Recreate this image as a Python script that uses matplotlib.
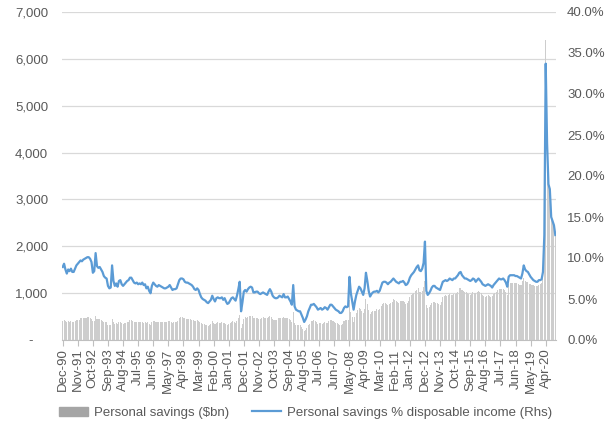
import numpy as np
import pandas as pd
import matplotlib.pyplot as plt
from matplotlib.patches import Patch
from matplotlib.ticker import FuncFormatter, FixedLocator

plt.rcParams['font.family'] = ['Liberation Sans', 'DejaVu Sans']

# monthly, Dec-90 .. Nov-20
months = pd.date_range("1990-12-01", "2020-11-01", freq="MS")

# personal savings rate, % of disposable income (right axis)
saving_rate = [
    8.9,
    9.3, 8.6, 8.1, 8.6, 8.4, 8.7, 8.3, 8.3, 8.7, 9.1, 9.3, 9.5,          # 1991
    9.7, 9.6, 9.8, 9.9, 10.0, 10.1, 10.1, 9.9, 9.5, 8.2, 8.4, 10.6,     # 1992
    9.0, 8.8, 8.9, 8.6, 8.3, 7.8, 7.6, 7.5, 6.6, 6.3, 6.4, 9.1,         # 1993
    7.2, 6.6, 6.9, 6.5, 7.2, 7.3, 6.8, 6.6, 6.8, 7.0, 7.2, 7.3,         # 1994
    7.6, 7.6, 7.3, 7.0, 6.9, 7.0, 6.8, 6.9, 6.8, 7.0, 6.7, 6.8,         # 1995
    6.3, 6.5, 6.0, 5.7, 6.6, 7.0, 6.8, 6.6, 6.5, 6.7, 6.6, 6.5,         # 1996
    6.4, 6.3, 6.3, 6.4, 6.5, 6.7, 6.4, 6.1, 6.2, 6.2, 6.3, 6.8,         # 1997
    7.3, 7.5, 7.5, 7.4, 7.1, 7.0, 7.0, 6.9, 6.8, 6.7, 6.5, 6.2,         # 1998
    6.1, 6.3, 6.1, 5.6, 5.2, 5.0, 4.9, 4.8, 4.6, 4.5, 4.7, 4.9,         # 1999
    5.4, 5.0, 4.7, 5.1, 5.2, 5.1, 5.1, 5.2, 4.9, 5.1, 4.7, 4.4,         # 2000
    4.5, 4.8, 5.1, 5.2, 5.0, 4.8, 5.4, 6.2, 7.1, 3.5, 4.6, 5.9,         # 2001
    6.1, 5.9, 6.2, 6.4, 6.5, 6.4, 5.8, 5.8, 5.9, 5.9, 5.7, 5.6,         # 2002
    5.7, 5.8, 5.7, 5.6, 5.5, 5.9, 6.2, 5.9, 5.4, 5.2, 5.1, 5.1,         # 2003
    5.2, 5.4, 5.3, 5.2, 5.6, 5.2, 5.2, 5.3, 5.0, 4.7, 4.3, 6.7,         # 2004
    4.1, 3.7, 3.6, 3.5, 3.5, 3.1, 2.7, 2.2, 2.5, 2.9, 3.5, 3.9,         # 2005
    4.3, 4.3, 4.4, 4.2, 4.0, 3.7, 3.8, 3.9, 3.7, 3.8, 4.0, 3.9,         # 2006
    3.7, 4.0, 4.3, 4.3, 4.1, 3.9, 3.7, 3.6, 3.5, 3.3, 3.3, 3.5,         # 2007
    3.9, 4.1, 4.0, 4.1, 7.7, 5.7, 4.7, 3.7, 4.7, 5.5, 6.0, 6.5,         # 2008
    6.3, 5.9, 5.5, 6.3, 8.2, 7.2, 6.0, 5.3, 5.6, 5.8, 5.9, 5.9,         # 2009
    6.0, 5.8, 6.0, 6.5, 7.0, 7.1, 7.1, 7.0, 6.8, 7.0, 7.1, 7.3,         # 2010
    7.5, 7.3, 7.1, 7.0, 6.9, 7.1, 7.1, 7.2, 7.0, 6.7, 6.8, 7.1,         # 2011
    7.6, 7.9, 8.1, 8.3, 8.6, 8.9, 9.1, 8.5, 8.4, 8.7, 9.4, 12.0,        # 2012
    6.0, 5.5, 5.7, 6.0, 6.4, 6.6, 6.6, 6.4, 6.3, 6.2, 6.1, 6.6,         # 2013
    7.1, 7.2, 7.3, 7.2, 7.3, 7.5, 7.4, 7.3, 7.5, 7.5, 7.7, 7.9,         # 2014
    8.2, 8.3, 7.9, 7.7, 7.5, 7.5, 7.4, 7.3, 7.2, 7.3, 7.5, 7.4,         # 2015
    7.1, 7.3, 7.5, 7.3, 7.1, 6.8, 6.7, 6.6, 6.7, 6.8, 6.7, 6.6,         # 2016
    6.4, 6.7, 6.9, 7.1, 7.3, 7.5, 7.4, 7.4, 7.5, 7.3, 7.0, 6.5,         # 2017
    7.7, 7.9, 7.9, 7.9, 7.9, 7.8, 7.8, 7.7, 7.6, 7.5, 8.1, 9.1,         # 2018
    8.6, 8.4, 8.3, 8.0, 7.7, 7.5, 7.3, 7.2, 7.1, 7.1, 7.3, 7.3,         # 2019
    7.4, 8.3, 12.8, 33.7, 24.0, 19.0, 18.4, 15.0, 14.5, 14.0, 12.8,     # 2020
]

# personal savings, $bn (left axis)
savings = [
    400,
    430, 395, 375, 395, 385, 400, 380, 380, 400, 420, 430, 435,          # 1991
    465, 460, 470, 475, 480, 485, 485, 475, 455, 395, 405, 510,          # 1992
    450, 440, 445, 430, 415, 390, 380, 375, 330, 315, 320, 455,          # 1993
    375, 345, 360, 340, 375, 380, 355, 345, 355, 365, 375, 380,          # 1994
    420, 420, 400, 385, 380, 385, 375, 380, 375, 385, 370, 375,          # 1995
    365, 375, 350, 330, 385, 405, 395, 385, 375, 390, 385, 375,          # 1996
    390, 385, 385, 390, 395, 410, 390, 370, 380, 380, 385, 415,          # 1997
    475, 490, 490, 480, 460, 455, 455, 450, 440, 435, 425, 405,          # 1998
    415, 430, 415, 380, 355, 340, 335, 325, 315, 305, 320, 335,          # 1999
    395, 365, 345, 370, 380, 370, 370, 380, 360, 370, 345, 320,          # 2000
    340, 365, 390, 395, 380, 365, 410, 470, 540, 265, 350, 450,          # 2001
    490, 470, 495, 510, 520, 510, 465, 465, 470, 470, 455, 450,          # 2002
    480, 485, 480, 470, 460, 495, 520, 495, 455, 435, 430, 430,          # 2003
    465, 480, 470, 465, 500, 465, 465, 470, 445, 420, 385, 595,          # 2004
    360, 325, 315, 310, 310, 275, 240, 195, 220, 255, 310, 345,          # 2005
    410, 410, 420, 400, 380, 350, 360, 370, 350, 360, 380, 370,          # 2006
    370, 400, 430, 430, 410, 390, 370, 360, 350, 330, 330, 350,          # 2007
    415, 435, 425, 435, 850, 605, 500, 390, 500, 585, 635, 690,          # 2008
    670, 625, 585, 670, 870, 765, 635, 560, 595, 615, 625, 625,          # 2009
    660, 640, 660, 715, 770, 780, 780, 770, 750, 770, 780, 805,          # 2010
    870, 845, 825, 810, 800, 825, 825, 835, 810, 775, 790, 825,          # 2011
    920, 955, 980, 1005, 1040, 1075, 1100, 1030, 1015, 1055, 1135, 1250,  # 2012
    745, 680, 705, 745, 795, 820, 820, 795, 780, 770, 755, 820,          # 2013
    925, 935, 950, 935, 950, 975, 960, 950, 975, 975, 1000, 1025,        # 2014
    1105, 1120, 1065, 1040, 1015, 1015, 1000, 985, 970, 985, 1015, 1000, # 2015
    995, 1020, 1050, 1020, 995, 950, 940, 925, 940, 950, 940, 925,       # 2016
    935, 980, 1005, 1035, 1065, 1095, 1080, 1080, 1095, 1065, 1020, 950, # 2017
    1195, 1225, 1225, 1225, 1225, 1210, 1210, 1195, 1180, 1165, 1255, 1320,  # 2018
    1260, 1240, 1230, 1200, 1190, 1180, 1170, 1160, 1150, 1150, 1180, 1190,  # 2019
    1220, 1370, 2175, 6400, 4320, 3325, 3275, 2670, 2580, 2450, 2240,    # 2020
]

bar_color = "#a5a5a5"
bar_draw_color = "#cdcdcd"   # thin bars render lighter in the original
line_color = "#5b9bd5"
text_color = "#595959"

x = np.arange(len(months))

fig = plt.figure(figsize=(6.11, 4.43), dpi=100)
ax = fig.add_axes([62 / 611, 1 - 340 / 443, (556 - 62) / 611, (340 - 12) / 443])
ax2 = ax.twinx()

ax.bar(x, savings, width=0.75, color=bar_draw_color, linewidth=0)
line, = ax2.plot(x, saving_rate, color=line_color, lw=1.6)

ax.set_xlim(-0.5, len(x) - 0.5)
ax.set_ylim(0, 7000)
ax2.set_ylim(0, 40)

ax.set_yticks(np.arange(0, 7001, 1000))
ax.yaxis.set_major_formatter(FuncFormatter(lambda v, p: "-    " if v == 0 else f"{v:,.0f}"))
ax2.set_yticks(np.arange(0, 41, 5))
ax2.yaxis.set_major_formatter(FuncFormatter(lambda v, p: f"{v:.1f}%"))

tick_pos = x[::11]
ax.xaxis.set_major_locator(FixedLocator(tick_pos))
ax.set_xticklabels([months[i].strftime("%b-%y") for i in tick_pos], rotation=90)

ax.grid(axis="y", color="#d9d9d9", lw=0.9)
ax.set_axisbelow(True)
for a in (ax, ax2):
    for s in ("top", "left", "right"):
        a.spines[s].set_visible(False)
    a.spines["bottom"].set_color("#bfbfbf")
ax2.spines["bottom"].set_visible(False)

ax.tick_params(axis="y", length=0, labelsize=9.5, colors=text_color, pad=10)
ax2.tick_params(axis="y", length=0, labelsize=9.5, colors=text_color, pad=8)
ax.tick_params(axis="x", length=4, color="#bfbfbf", labelsize=9.5, labelcolor=text_color, pad=2)

handles = [Patch(color=bar_color), line]
labels = ["Personal savings (\\$bn)", "Personal savings % disposable income (Rhs)"]
fig.legend(handles, labels, loc="center", bbox_to_anchor=(0.5, 0.068), ncol=2,
           frameon=False, fontsize=9.5, labelcolor=text_color, handlelength=2.2,
           columnspacing=1.8, handletextpad=0.4)

fig.savefig("out.png", dpi=100)
